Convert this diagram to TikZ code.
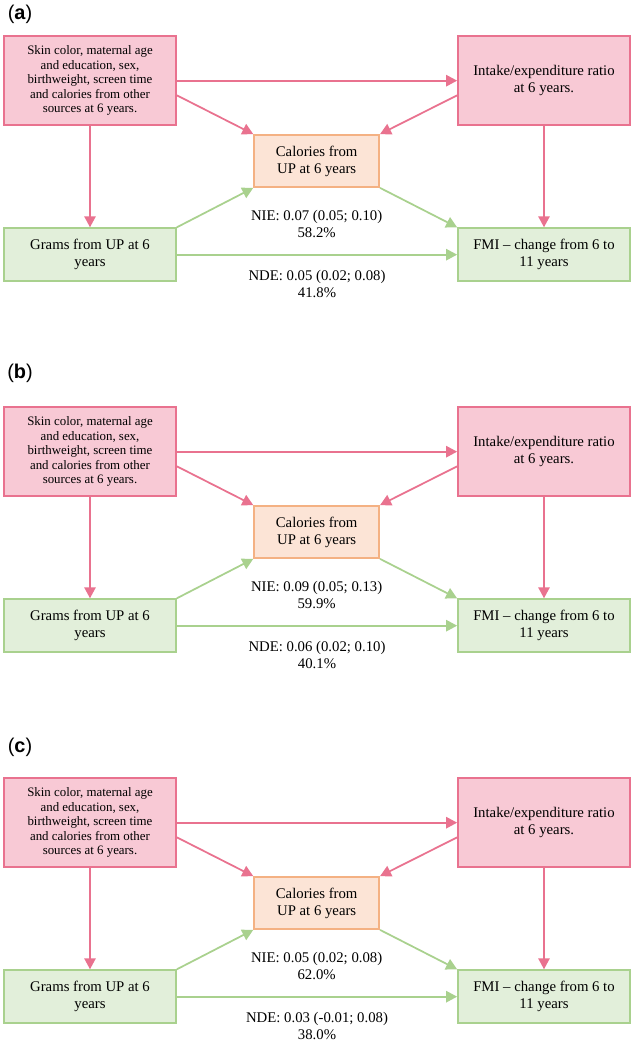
\documentclass[tikz,border=0pt]{standalone}
\usepackage{fontspec}
\setmainfont{Liberation Serif}
\newfontfamily\panelfont{Liberation Sans}
\usepackage{tikz}
\usepackage{xcolor}
\usetikzlibrary{positioning}
\usetikzlibrary{arrows.meta}
\definecolor{pinkfill}{HTML}{F8C9D5}
\definecolor{pinkline}{HTML}{E9728F}
\definecolor{peachfill}{HTML}{FCE4D6}
\definecolor{peachline}{HTML}{F4B183}
\definecolor{greenfill}{HTML}{E2EFDA}
\definecolor{greenline}{HTML}{A9D18E}
\tikzstyle{confounder} = [rectangle, minimum width=5.16cm, minimum height=2.67cm, text centered, draw=pinkline, fill=pinkfill, line width=1.5pt, font=\fontsize{12.6}{14.6}\selectfont]
\tikzstyle{mediator} = [rectangle, minimum width=3.75cm, minimum height=1.56cm, text centered, draw=peachline, fill=peachfill, line width=1.5pt, font=\fontsize{12.6}{14.6}\selectfont]
\tikzstyle{exposure} = [rectangle, minimum width=5.16cm, minimum height=1.59cm, text centered, draw=greenline, fill=greenfill, line width=1.5pt, font=\fontsize{12.6}{14.6}\selectfont]
\tikzstyle{effect} = [align=center, font=\fontsize{12.6}{14.6}\selectfont]
\tikzstyle{pinkarrow} = [line width=1.5pt, draw=pinkline, ->, >={Triangle[length=0.33cm,width=0.34cm]}]
\tikzstyle{greenarrow} = [line width=1.5pt, draw=greenline, ->, >={Triangle[length=0.33cm,width=0.34cm]}]

\begin{document}
\begin{tikzpicture}[node distance=2cm]
    \useasboundingbox (0,0) rectangle (19.08,-31.23);

    % panel (a)
    \node (labA) at (0.6,-0.42) {\fontsize{17}{20}\selectfont\panelfont (\textbf{a})};
    \node (skinA) [confounder, align=center, font=\fontsize{11}{12.3}\selectfont] at (2.7,-2.42) {Skin color, maternal age\\and education, sex,\\birthweight, screen time\\and calories from other\\sources at 6 years.};
    \node (intakeA) [confounder, right of=skinA, xshift=11.62cm, align=center] {Intake/expenditure ratio\\at 6 years.};
    \node (calA) [mediator, below of=skinA, xshift=6.8cm, yshift=-0.41cm, align=center] {Calories from\\UP at 6 years};
    \node (gramsA) [exposure, below of=skinA, yshift=-3.22cm, align=center] {Grams from UP at 6\\years};
    \node (fmiA) [exposure, below of=intakeA, yshift=-3.22cm, align=center] {FMI -- change from 6 to\\11 years};
    \node (nieA) [effect, below of=calA, yshift=0.12cm] {NIE: 0.07 (0.05; 0.10)\\58.2\%};

    \draw [pinkarrow] (skinA) -- (intakeA);
    \draw [pinkarrow] ([yshift=-0.44cm]skinA.east) -- (calA.north west);
    \draw [pinkarrow] ([yshift=-0.44cm]intakeA.west) -- (calA.north east);
    \draw [pinkarrow] (skinA) -- (gramsA);
    \draw [pinkarrow] (intakeA) -- (fmiA);
    \draw [greenarrow] (gramsA.north east) -- (calA.south west);
    \draw [greenarrow] (calA.south east) -- (fmiA.north west);
    \draw [greenarrow] (gramsA) -- node[effect, yshift=-0.87cm] {NDE: 0.05 (0.02; 0.08)\\41.8\%} (fmiA);

    % panel (b)
    \begin{scope}[yshift=-11.13cm]
    \node (labB) at (0.6,-0.06) {\fontsize{17}{20}\selectfont\panelfont (\textbf{b})};
    \node (skinB) [confounder, align=center, font=\fontsize{11}{12.3}\selectfont] at (2.7,-2.42) {Skin color, maternal age\\and education, sex,\\birthweight, screen time\\and calories from other\\sources at 6 years.};
    \node (intakeB) [confounder, right of=skinB, xshift=11.62cm, align=center] {Intake/expenditure ratio\\at 6 years.};
    \node (calB) [mediator, below of=skinB, xshift=6.8cm, yshift=-0.41cm, align=center] {Calories from\\UP at 6 years};
    \node (gramsB) [exposure, below of=skinB, yshift=-3.22cm, align=center] {Grams from UP at 6\\years};
    \node (fmiB) [exposure, below of=intakeB, yshift=-3.22cm, align=center] {FMI -- change from 6 to\\11 years};
    \node (nieB) [effect, below of=calB, yshift=0.12cm] {NIE: 0.09 (0.05; 0.13)\\59.9\%};

    \draw [pinkarrow] (skinB) -- (intakeB);
    \draw [pinkarrow] ([yshift=-0.44cm]skinB.east) -- (calB.north west);
    \draw [pinkarrow] ([yshift=-0.44cm]intakeB.west) -- (calB.north east);
    \draw [pinkarrow] (skinB) -- (gramsB);
    \draw [pinkarrow] (intakeB) -- (fmiB);
    \draw [greenarrow] (gramsB.north east) -- (calB.south west);
    \draw [greenarrow] (calB.south east) -- (fmiB.north west);
    \draw [greenarrow] (gramsB) -- node[effect, yshift=-0.87cm] {NDE: 0.06 (0.02; 0.10)\\40.1\%} (fmiB);
    \end{scope}

    % panel (c)
    \begin{scope}[yshift=-22.26cm]
    \node (labC) at (0.6,-0.15) {\fontsize{17}{20}\selectfont\panelfont (\textbf{c})};
    \node (skinC) [confounder, align=center, font=\fontsize{11}{12.3}\selectfont] at (2.7,-2.42) {Skin color, maternal age\\and education, sex,\\birthweight, screen time\\and calories from other\\sources at 6 years.};
    \node (intakeC) [confounder, right of=skinC, xshift=11.62cm, align=center] {Intake/expenditure ratio\\at 6 years.};
    \node (calC) [mediator, below of=skinC, xshift=6.8cm, yshift=-0.41cm, align=center] {Calories from\\UP at 6 years};
    \node (gramsC) [exposure, below of=skinC, yshift=-3.22cm, align=center] {Grams from UP at 6\\years};
    \node (fmiC) [exposure, below of=intakeC, yshift=-3.22cm, align=center] {FMI -- change from 6 to\\11 years};
    \node (nieC) [effect, below of=calC, yshift=0.12cm] {NIE: 0.05 (0.02; 0.08)\\62.0\%};

    \draw [pinkarrow] (skinC) -- (intakeC);
    \draw [pinkarrow] ([yshift=-0.44cm]skinC.east) -- (calC.north west);
    \draw [pinkarrow] ([yshift=-0.44cm]intakeC.west) -- (calC.north east);
    \draw [pinkarrow] (skinC) -- (gramsC);
    \draw [pinkarrow] (intakeC) -- (fmiC);
    \draw [greenarrow] (gramsC.north east) -- (calC.south west);
    \draw [greenarrow] (calC.south east) -- (fmiC.north west);
    \draw [greenarrow] (gramsC) -- node[effect, yshift=-0.87cm] {NDE: 0.03 (-0.01; 0.08)\\38.0\%} (fmiC);
    \end{scope}
\end{tikzpicture}
\end{document}
